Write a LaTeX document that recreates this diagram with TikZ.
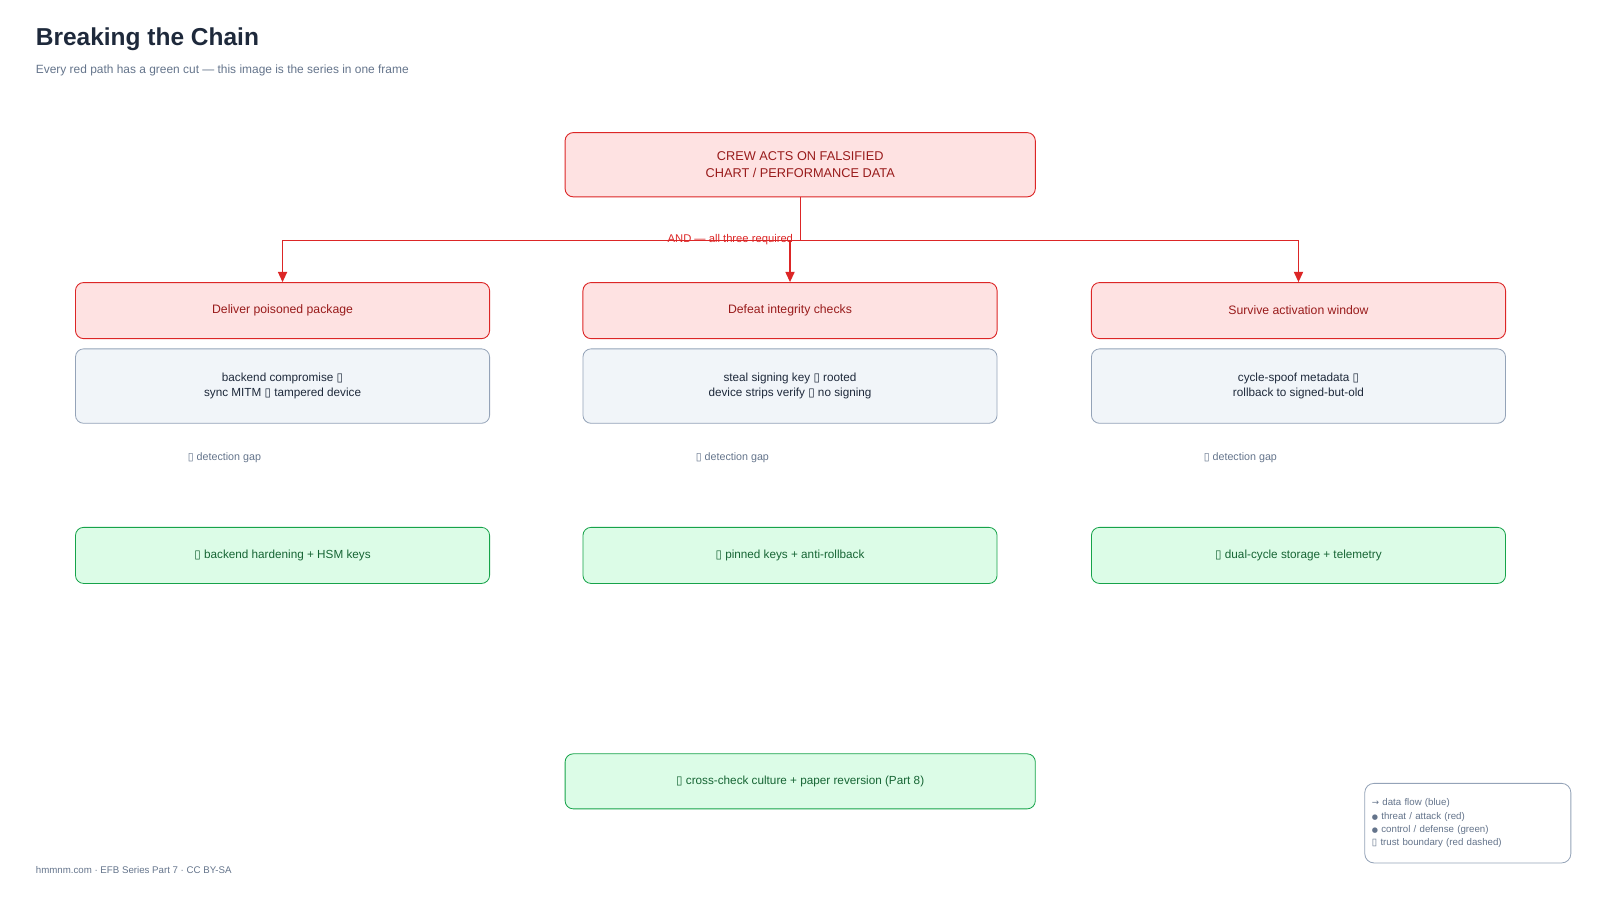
\documentclass[tikz,border=0pt]{standalone}
\usepackage{fontspec}
\setmainfont{Liberation Sans}
\newfontfamily\symfont{DejaVu Sans}
\usetikzlibrary{arrows.meta}

\definecolor{threatfill}{HTML}{FEE2E2}
\definecolor{threatline}{HTML}{DC2626}
\definecolor{threattext}{HTML}{991B1B}
\definecolor{pathfill}{HTML}{F1F5F9}
\definecolor{pathline}{HTML}{94A3B8}
\definecolor{inktext}{HTML}{1E293B}
\definecolor{cutfill}{HTML}{DCFCE7}
\definecolor{cutline}{HTML}{16A34A}
\definecolor{cuttext}{HTML}{166534}
\definecolor{mutedtext}{HTML}{64748B}

\newcommand{\tofu}{{\symfont\char"25AF}}
\newcommand{\legdot}{{\symfont\fontsize{7}{7}\selectfont\char"25CF}}

\begin{document}
\begin{tikzpicture}[x=1pt,y=-1pt]
\tikzset{
  threatbox/.style={draw=threatline, fill=threatfill, text=threattext, rounded corners=8pt,
    line width=0.9pt, minimum width=406pt, minimum height=55pt, align=center,
    font=\fontsize{12}{15}\selectfont},
  pathbox/.style={draw=pathline, fill=pathfill, text=inktext, rounded corners=8pt,
    line width=0.8pt, minimum width=406pt, minimum height=73pt, align=center,
    font=\fontsize{11.5}{15}\selectfont},
  cutbox/.style={draw=cutline, fill=cutfill, text=cuttext, rounded corners=8pt,
    line width=0.8pt, minimum width=406pt, minimum height=55pt, align=center,
    font=\fontsize{11.5}{15}\selectfont},
  gaplabel/.style={text=mutedtext, inner sep=0pt, font=\fontsize{10.5}{12}\selectfont},
  andline/.style={draw=threatline, line width=1.2pt},
}
\useasboundingbox (0,0) rectangle (1568.6,891.2);

\node[anchor=base west, inner sep=0pt, text=inktext, font=\bfseries\fontsize{24}{28}\selectfont] (title) at (35,45) {Breaking the Chain};
\node[anchor=base west, inner sep=0pt, text=mutedtext, font=\fontsize{11.7}{14}\selectfont] (subtitle) at (35,72) {Every red path has a green cut — this image is the series in one frame};

\node[threatbox, minimum width=461pt, minimum height=63pt, font=\fontsize{12.5}{16}\selectfont] (goal) at (784.5,161.5) {CREW ACTS ON FALSIFIED\\CHART / PERFORMANCE DATA};

\node[threatbox] (deliver) at (277,304.5) {Deliver poisoned package};
\node[threatbox] (defeat) at (774.5,304.5) {Defeat integrity checks};
\node[threatbox] (survive) at (1273,304.5) {Survive activation window};

\node[pathbox] (deliverhow) at (277,378.5) {backend compromise \tofu\\sync MITM \tofu{} tampered device};
\node[pathbox] (defeathow) at (774.5,378.5) {steal signing key \tofu{} rooted\\device strips verify \tofu{} no signing};
\node[pathbox] (survivehow) at (1273,378.5) {cycle-spoof metadata \tofu\\rollback to signed-but-old};

\node[gaplabel] (delivergap) at (220,449) {\tofu{} detection gap};
\node[gaplabel] (defeatgap) at (718,449) {\tofu{} detection gap};
\node[gaplabel] (survivegap) at (1216,449) {\tofu{} detection gap};

\node[cutbox] (delivercut) at (277,544.5) {\tofu{} backend hardening + HSM keys};
\node[cutbox] (defeatcut) at (774.5,544.5) {\tofu{} pinned keys + anti-rollback};
\node[cutbox] (survivecut) at (1273,544.5) {\tofu{} dual-cycle storage + telemetry};

\node[cutbox, minimum width=461pt, minimum height=54pt] (culture) at (784.5,766) {\tofu{} cross-check culture + paper reversion (Part 8)};

\path (goal.south) ++(0,42) coordinate (fork);
\draw[andline] (goal.south) -- (fork);
\draw[andline] (fork -| deliver.north) -- (fork -| survive.north);
\foreach \t in {deliver,defeat,survive}
  \draw[andline, -{Triangle[length=10pt,width=9pt]}] (fork -| \t.north) -- (\t.north);
\node[text=threatline, inner sep=0pt, font=\fontsize{11}{13}\selectfont] (andlabel) at (716,235) {AND — all three required};

\node[draw=pathline, fill=white, rounded corners=9pt, line width=0.8pt, minimum width=202pt, minimum height=78pt,
  text width=188pt, inner xsep=7pt, align=left, text=mutedtext, font=\fontsize{9.5}{13}\selectfont] (legend) at (1439,807)
  {{\symfont\fontsize{8.5}{13}\selectfont →} data flow (blue)\\
   \legdot{} threat / attack (red)\\
   \legdot{} control / defense (green)\\
   \tofu{} trust boundary (red dashed)};

\node[anchor=base west, inner sep=0pt, text=mutedtext, font=\fontsize{9.5}{12}\selectfont] (footer) at (35,856) {hmmnm.com · EFB Series Part 7 · CC BY-SA};
\end{tikzpicture}
\end{document}
